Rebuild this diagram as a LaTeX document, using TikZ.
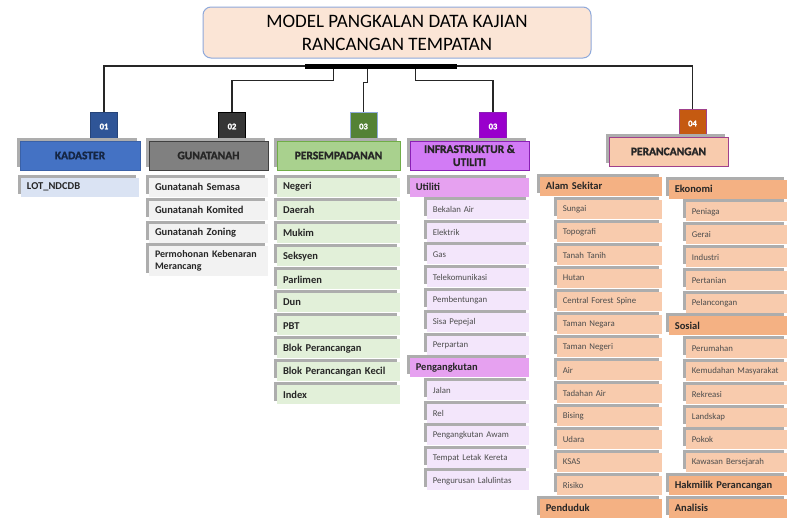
\documentclass[tikz,border=0pt]{standalone}
\usepackage{fontspec}
\setmainfont{Carlito}
\usepackage{xcolor}
\usetikzlibrary{shadows}
\definecolor{TitleFill}{HTML}{FBE5D6}
\definecolor{TitleLine}{HTML}{8EA9DB}
\definecolor{KadTab}{HTML}{2F5597}
\definecolor{KadHead}{HTML}{4472C4}
\definecolor{KadItem}{HTML}{DAE3F3}
\definecolor{GunTab}{HTML}{363636}
\definecolor{GunHead}{HTML}{808080}
\definecolor{GunItem}{HTML}{F2F2F2}
\definecolor{PerTab}{HTML}{548235}
\definecolor{PerHead}{HTML}{A9D18E}
\definecolor{PerLine}{HTML}{70AD47}
\definecolor{PerItem}{HTML}{E2F0D9}
\definecolor{InfTab}{HTML}{9900CC}
\definecolor{InfHead}{HTML}{D27BF5}
\definecolor{InfLine}{HTML}{8A1FB5}
\definecolor{InfGroup}{HTML}{E6A1F0}
\definecolor{InfItem}{HTML}{F3E6FB}
\definecolor{RanTab}{HTML}{C55A11}
\definecolor{RanHead}{HTML}{F8CBAD}
\definecolor{RanLine}{HTML}{A0418C}
\definecolor{RanGroup}{HTML}{F4B183}
\definecolor{RanItem}{HTML}{F8CBAD}
\definecolor{SubText}{HTML}{4D4D4D}
\newfontfamily\heavyfont[BoldFeatures={FakeBold=1.5}]{Carlito}
\newcommand{\tabfont}{\heavyfont\fontsize{8.5}{9}\selectfont\bfseries}
\newcommand{\headfont}{\heavyfont\fontsize{11.5}{13}\selectfont\bfseries}

\begin{document}
\begin{tikzpicture}[x=1pt,y=-1pt,
    shade/.style={drop shadow={shadow xshift=-3pt,shadow yshift=3pt,fill=black!32,opacity=1}},
    wire/.style={line width=1.2pt,color=black!85},
    tab/.style={minimum width=27pt,minimum height=29pt,inner sep=0pt,text=white,font=\tabfont},
    head/.style={shade,minimum height=29pt,inner sep=0pt,line width=1pt,align=center,
                 font=\headfont,text=black!85},
    item/.style={shade,minimum height=19pt,inner xsep=6pt,inner ysep=0pt,align=left,
                 font=\bfseries\fontsize{10.5}{11.5}\selectfont,text=black!85},
    sub/.style={item,font=\fontsize{8.8}{10}\selectfont,text=SubText},
    infg/.style={item,fill=InfGroup,text width=107pt},
    infs/.style={sub,fill=InfItem,text width=90pt},
    rang/.style={item,fill=RanGroup,text width=110pt},
    rans/.style={sub,fill=RanItem,text width=93pt},
    ranh/.style={item,fill=RanGroup,text width=106pt},
    ranz/.style={sub,fill=RanItem,text width=89pt}]
  \clip (0,0) rectangle (790,517);
  \fill[white] (0,0) rectangle (790,517);

  % title and bar
  \node[rounded corners=8pt,fill=TitleFill,draw=TitleLine,line width=1pt,minimum width=388pt,
        minimum height=51pt,align=center,font=\fontsize{19}{23}\selectfont] (title) at (397,32.5)
        {MODEL PANGKALAN DATA KAJIAN\\RANCANGAN TEMPATAN};
  \node[fill=black,minimum width=152pt,minimum height=5pt,inner sep=0pt] (bar) at (381,66) {};

  % tabs
  \node[tab,fill=KadTab,draw=KadTab!80!black] (t1) at (104,126.5) {01};
  \node[tab,fill=GunTab,draw=black] (t2) at (232,126.5) {02};
  \node[tab,fill=PerTab,draw=TitleLine] (t3) at (363.5,126.5) {03};
  \node[tab,fill=InfTab,draw=InfLine] (t3b) at (493,126.5) {03};
  \node[tab,fill=RanTab,draw=RanLine] (t4) at (692.5,123.5) {04};

  % headers
  \node[head,fill=KadHead,draw=KadHead!85!black,minimum width=120pt,text=KadTab!45!black] (kad) at (80,155.5) {KADASTER};
  \node[head,fill=GunHead,draw=black!75,minimum width=119pt] (gun) at (208.5,155.5) {GUNATANAH};
  \node[head,fill=PerHead,draw=PerLine,minimum width=123pt] (per) at (338.5,155.5) {PERSEMPADANAN};
  \node[head,fill=InfHead,draw=InfLine,minimum width=119pt] (inf) at (469.5,155.5) {INFRASTRUKTUR \&\\UTILITI};
  \node[head,fill=RanHead,draw=RanLine,minimum width=119pt] (ran) at (668.5,151.5) {PERANCANGAN};

  % connectors
  \draw[wire] (bar.west) -| (t1.north);
  \draw[wire] (bar.east) -| (t4.north);
  \draw[wire] ([xshift=29pt]bar.south west) -- ++(0,12) -| (t2.north);
  \draw[wire] ([xshift=63pt]bar.south west) -- ++(0,14) -| (t3.north);
  \draw[wire] ([xshift=111pt]bar.south west) -- ++(0,12) -| (t3b.north);

  % kadaster
  \node[item,fill=KadItem,text width=106pt] (k0) at (80,187) {LOT\_NDCDB};

  % gunatanah
  \foreach \t [count=\i from 0] in {Gunatanah Semasa,Gunatanah Komited,Gunatanah Zoning}
    \node[item,fill=GunItem,text width=107pt] (g\i) at (208.5,{187+23*\i}) {\t};
  \node[item,fill=GunItem,text width=107pt,minimum height=30pt,
        font=\bfseries\fontsize{10}{12}\selectfont] (g3) at (208.5,261)
    {Permohonan Kebenaran\\Merancang};

  % persempadanan
  \foreach \t [count=\i from 0] in {Negeri,Daerah,Mukim,Seksyen,Parlimen,Dun,PBT,
      Blok Perancangan,Blok Perancangan Kecil,Index}
    \node[item,fill=PerItem,text width=111pt] (p\i) at (338.5,{187+23.1*\i}) {\t};

  % infrastruktur dan utiliti
  \foreach \k/\t [count=\i from 0] in {infg/Utiliti,infs/Bekalan Air,infs/Elektrik,infs/Gas,
      infs/Telekomunikasi,infs/Pembentungan,infs/Sisa Pepejal,infs/Perpartan,
      infg/Pengangkutan,infs/Jalan,infs/Rel,infs/Pengangkutan Awam,
      infs/Tempat Letak Kereta,infs/Pengurusan Lalulintas}
    \node[\k,anchor=east] (u\i) at (529,{187+22.6*\i}) {\t};

  % perancangan: alam sekitar
  \foreach \k/\t [count=\i from 0] in {rang/Alam Sekitar,rans/Sungai,rans/Topografi,
      rans/Tanah Tanih,rans/Hutan,rans/Central Forest Spine,rans/Taman Negara,
      rans/Taman Negeri,rans/Air,rans/Tadahan Air,rans/Bising,rans/Udara,rans/KSAS,
      rans/Risiko,rang/Penduduk}
    \node[\k,anchor=east] (a\i) at (662,{186+23*\i}) {\t};

  % perancangan: ekonomi dan sosial
  \foreach \k/\t [count=\i from 0] in {ranh/Ekonomi,ranz/Peniaga,ranz/Gerai,ranz/Industri,
      ranz/Pertanian,ranz/Pelancongan,ranh/Sosial,ranz/Perumahan,
      ranz/Kemudahan Masyarakat,ranz/Rekreasi,ranz/Landskap,ranz/Pokok,
      ranz/Kawasan Bersejarah,ranh/Hakmilik Perancangan,ranh/Analisis}
    \node[\k,anchor=east] (e\i) at (787,{189+22.8*\i}) {\t};
\end{tikzpicture}
\end{document}
